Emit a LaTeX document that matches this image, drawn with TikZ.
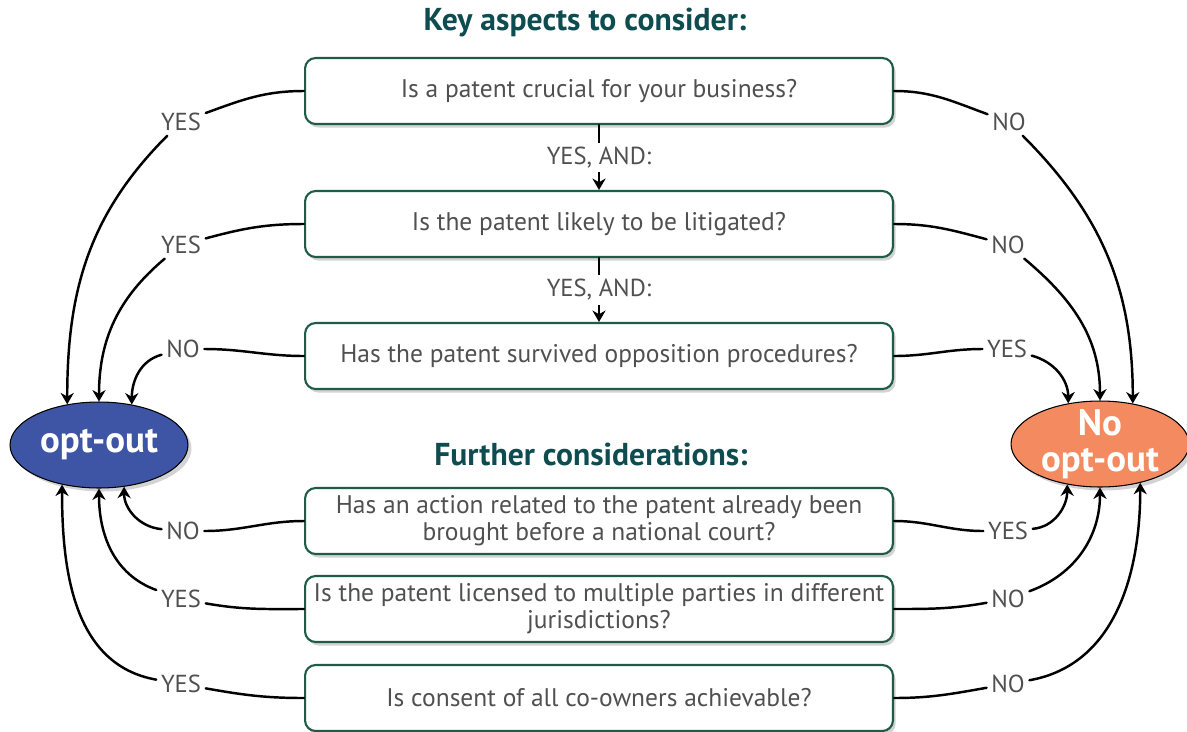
\documentclass[tikz,border=0pt]{standalone}
\usepackage{fontspec}
\setmainfont{PT Sans}
\usetikzlibrary{shapes.geometric,shadows,arrows.meta}

\definecolor{boxgreen}{HTML}{1E5C48}
\definecolor{headteal}{HTML}{0E4C50}
\definecolor{txtgray}{HTML}{505050}
\definecolor{optblue}{HTML}{3E55A6}
\definecolor{optorange}{HTML}{F48A60}

\tikzset{
  question/.style={draw=boxgreen, line width=1.2pt, rounded corners=6pt, fill=white,
    minimum width=11.76cm, minimum height=1.32cm, inner xsep=2pt, align=center,
    text=txtgray, font=\fontsize{14.5}{15.5}\selectfont,
    drop shadow={shadow xshift=1.5pt, shadow yshift=-2pt, opacity=0.35}},
  answer/.style={text=txtgray, font=\fontsize{14}{15.5}\selectfont, inner sep=2.5pt},
  result/.style={ellipse, draw=black, line width=0.6pt, minimum width=3.56cm,
    minimum height=1.72cm, inner sep=0pt,
    drop shadow={shadow xshift=2pt, shadow yshift=-2pt, opacity=0.35}},
  resulttext/.style={text=white, align=center, inner sep=0pt,
    font=\bfseries\fontsize{21}{20.5}\selectfont},
  heading/.style={text=headteal, font=\bfseries\fontsize{18}{20}\selectfont},
  flow/.style={line width=1.4pt},
  flowarrow/.style={flow, -{Stealth[length=6.5pt,width=7.5pt]}}
}

\begin{document}
\begin{tikzpicture}[x=0.02cm, y=0.02cm, line cap=round, line join=round]
\useasboundingbox (0,0) rectangle (1187,-731);

% headings
\node[heading] (keyhead) at (585,-22) {Key aspects to consider:};
\node[heading] (furtherhead) at (591,-454) {Further considerations:};

% questions
\node[question] (q1) at (599,-91) {Is a patent crucial for your business?};
\node[question] (q2) at (599,-224) {Is the patent likely to be litigated?};
\node[question] (q3) at (599,-356) {Has the patent survived opposition procedures?};
\node[question] (q4) at (599,-521) {Has an action related to the patent already been\\brought before a national court?};
\node[question] (q5) at (599,-609) {Is the patent licensed to multiple parties in different\\jurisdictions?};
\node[question] (q6) at (599,-698) {Is consent of all co-owners achievable?};

% outcomes
\node[result, fill=optblue] (optout) at (99,-445) {};
\node[resulttext] (optoutlabel) at (optout) {opt-out};
\node[result, fill=optorange] (nooptout) at (1100,-444) {};
\node[resulttext] (nooptoutlabel) at (nooptout) {No\\opt-out};

% main line
\draw[flowarrow] (q1) -- node[answer, fill=white] (andA) {YES, AND:} (q2);
\draw[flowarrow] (q2) -- node[answer, fill=white] (andB) {YES, AND:} (q3);

% left answers
\node[answer] (lA) at (181,-122) {YES};
\node[answer] (lB) at (181,-245) {YES};
\node[answer] (lC) at (183,-349) {NO};
\node[answer] (lD) at (183,-531) {NO};
\node[answer] (lE) at (181,-599) {YES};
\node[answer] (lF) at (181,-684) {YES};

% right answers
\node[answer] (rA) at (1009,-122) {NO};
\node[answer] (rB) at (1008,-245) {NO};
\node[answer] (rC) at (1007,-349) {YES};
\node[answer] (rD) at (1008,-531) {YES};
\node[answer] (rE) at (1008,-599) {NO};
\node[answer] (rF) at (1008,-684) {NO};

% to opt-out
\draw[flow] (q1.west) to[out=180,in=20] (lA);
\draw[flowarrow] (lA) to[out=225,in=90] (optout.128.7);
\draw[flow] (q2.west) to[out=180,in=15] (lB);
\draw[flowarrow] (lB) to[out=220,in=90] (optout.90);
\draw[flow] (q3.west) to[out=180,in=0] (lC);
\draw[flowarrow] (lC) to[out=195,in=90] (optout.51.3);
\draw[flow] (q4.west) to[out=180,in=0] (lD);
\draw[flowarrow] (lD) to[out=175,in=-90] (optout.301);
\draw[flow] (q5.west) to[out=180,in=-10] (lE);
\draw[flowarrow] (lE) to[out=160,in=-90] (optout.270);
\draw[flow] (q6.west) to[out=180,in=-10] (lF);
\draw[flowarrow] (lF) to[out=170,in=-90] (optout.227.5);

% to no opt-out
\draw[flow] (q1.east) to[out=0,in=160] (rA);
\draw[flowarrow] (rA) to[out=-45,in=90] (nooptout.51.3);
\draw[flow] (q2.east) to[out=0,in=165] (rB);
\draw[flowarrow] (rB) to[out=-40,in=90] (nooptout.90);
\draw[flow] (q3.east) to[out=0,in=180] (rC);
\draw[flowarrow] (rC) to[out=-15,in=90] (nooptout.128.7);
\draw[flow] (q4.east) to[out=0,in=180] (rD);
\draw[flowarrow] (rD) to[out=5,in=-90] (nooptout.231.3);
\draw[flow] (q5.east) to[out=0,in=190] (rE);
\draw[flowarrow] (rE) to[out=20,in=-90] (nooptout.270);
\draw[flow] (q6.east) to[out=0,in=190] (rF);
\draw[flowarrow] (rF) to[out=10,in=-90] (nooptout.316);
\end{tikzpicture}
\end{document}
